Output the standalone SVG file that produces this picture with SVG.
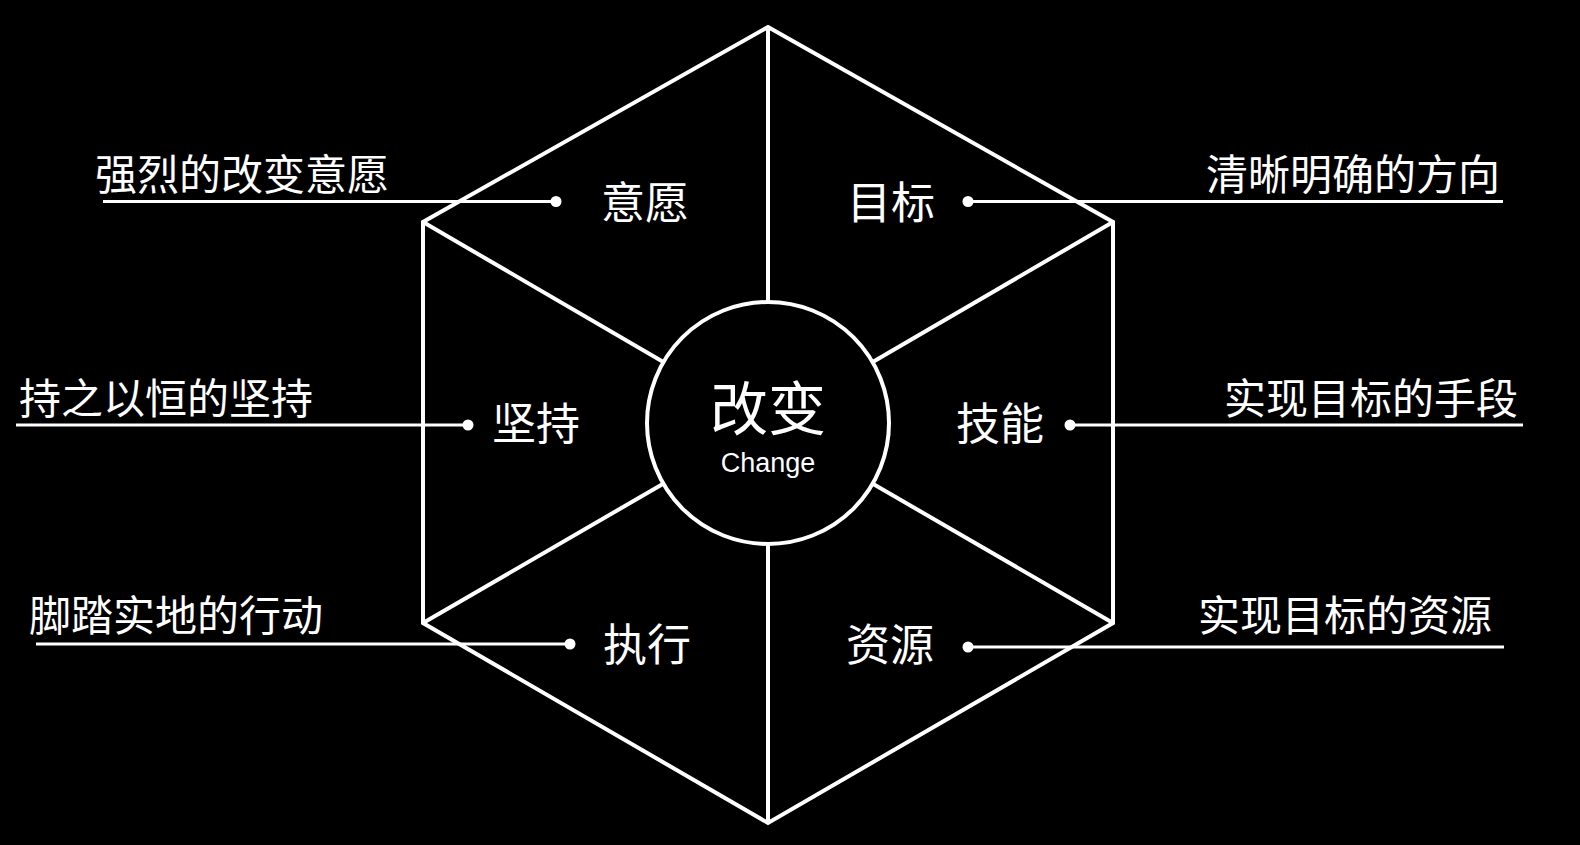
<svg xmlns="http://www.w3.org/2000/svg" width="1580" height="845" viewBox="0 0 1580 845">
<style>
.hex{fill:none;stroke:#fff;stroke-width:4;stroke-linejoin:miter}
.spoke{stroke:#fff;stroke-width:4}
.lead{stroke:#fff;stroke-width:3}
.dot{fill:#fff}
.lbl{fill:#fff;font-family:"Noto Sans CJK SC","Noto Sans",sans-serif;font-size:44px;text-anchor:middle}
.desc{fill:#fff;font-family:"Noto Sans CJK SC","Noto Sans",sans-serif;font-size:42px}
.end{text-anchor:end}
</style>
<rect width="1580" height="845" fill="#000"/>
<g id="connectors">
<line class="spoke" x1="768" y1="27" x2="768" y2="423"/>
<line class="spoke" x1="768" y1="823" x2="768" y2="423"/>
<line class="spoke" x1="423" y1="222" x2="768" y2="423"/>
<line class="spoke" x1="1113" y1="222" x2="768" y2="423"/>
<line class="spoke" x1="423" y1="623" x2="768" y2="423"/>
<line class="spoke" x1="1113" y1="623" x2="768" y2="423"/>
<line class="lead" x1="103" y1="201.5" x2="556" y2="201.5"/>
<circle class="dot" cx="556" cy="201.5" r="5.5"/>
<line class="lead" x1="968" y1="201.5" x2="1503" y2="201.5"/>
<circle class="dot" cx="968" cy="201.5" r="5.5"/>
<line class="lead" x1="16" y1="425" x2="468" y2="425"/>
<circle class="dot" cx="468" cy="425" r="5.5"/>
<line class="lead" x1="1070" y1="425" x2="1523" y2="425"/>
<circle class="dot" cx="1070" cy="425" r="5.5"/>
<line class="lead" x1="36" y1="644" x2="570" y2="644"/>
<circle class="dot" cx="570" cy="644" r="5.5"/>
<line class="lead" x1="968" y1="647" x2="1504" y2="647"/>
<circle class="dot" cx="968" cy="647" r="5.5"/>
</g>
<g id="hexagon">
<polygon class="hex" points="768,27 1113,222 1113,623 768,823 423,623 423,222"/>
</g>
<g id="center">
<circle cx="768" cy="423" r="121" fill="#000" stroke="#fff" stroke-width="4"/>
<text x="768" y="430" fill="#fff" font-family="Noto Sans CJK SC, Noto Sans, sans-serif" font-size="58" text-anchor="middle">改变</text>
<text x="768" y="472" fill="#fff" font-family="Liberation Sans, Arial, sans-serif" font-size="27" text-anchor="middle">Change</text>
</g>
<g id="yiyuan">
<text class="lbl" x="645" y="219">意愿</text>
<text class="desc" x="95" y="190">强烈的改变意愿</text>
</g>
<g id="mubiao">
<text class="lbl" x="891" y="219">目标</text>
<text class="desc end" x="1500" y="190">清晰明确的方向</text>
</g>
<g id="jianchi">
<text class="lbl" x="536" y="440">坚持</text>
<text class="desc" x="19" y="414">持之以恒的坚持</text>
</g>
<g id="jineng">
<text class="lbl" x="1000" y="440">技能</text>
<text class="desc end" x="1518" y="414">实现目标的手段</text>
</g>
<g id="zhixing">
<text class="lbl" x="647" y="661">执行</text>
<text class="desc" x="29" y="631">脚踏实地的行动</text>
</g>
<g id="ziyuan">
<text class="lbl" x="890" y="661">资源</text>
<text class="desc end" x="1492" y="631">实现目标的资源</text>
</g>
</svg>
